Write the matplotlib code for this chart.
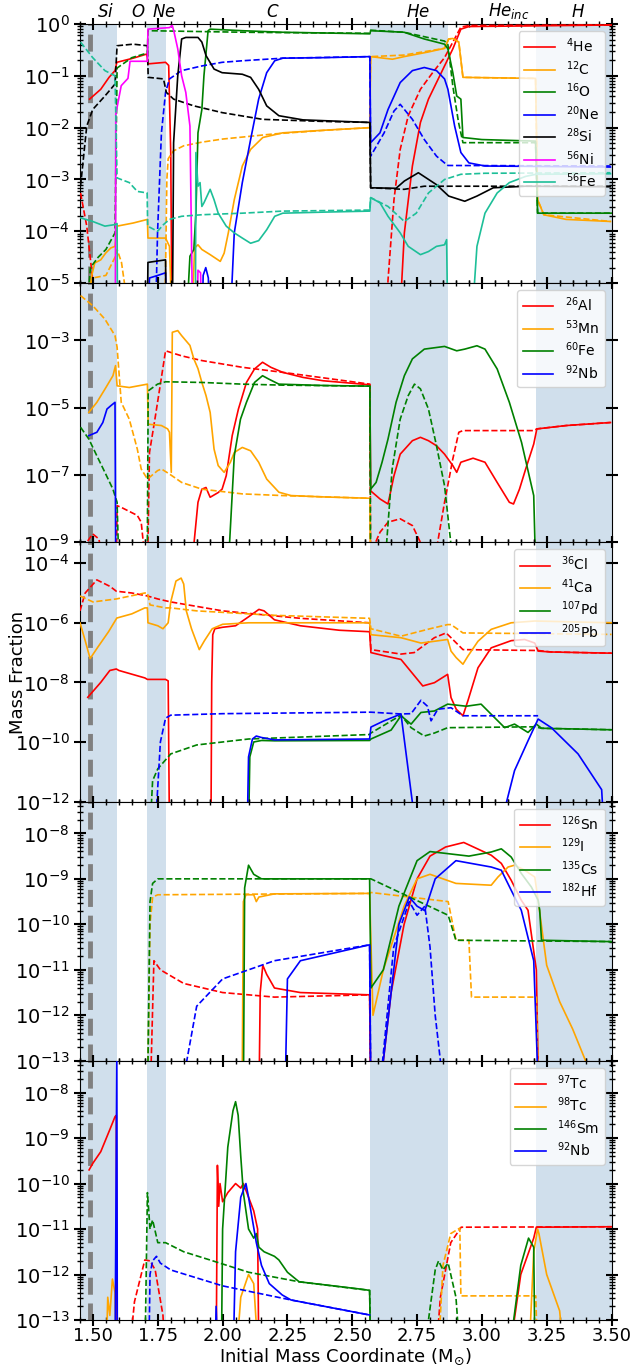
import numpy as np
import matplotlib
matplotlib.use("Agg")
import matplotlib.pyplot as plt
from matplotlib.ticker import MultipleLocator, FixedLocator, NullLocator
import matplotlib.transforms as mtrans

# ---- zones ----
zone_names = [r'$Si$', r'$O$', r'$Ne$', r'$C$', r'$He$', r'$He_{inc}$', r'$H$']
zone_label_x = [1.55, 1.673, 1.775, 2.193, 2.755, 3.103, 3.371]
shade_spans = [(1.45, 1.593), (1.71, 1.781), (2.567, 2.869), (3.208, 3.5)]
cut_x = 1.488

# ---- panel 1 (x, log10 mass fraction) ----
p1_he4_sol = [(1.487, -1.45), (1.53, -1.26), (1.562, -1.03), (1.585, -0.9), (1.592, -0.74), (1.655, -0.66),
              (1.708, -0.58), (1.712, -0.77), (1.78, -0.74), (1.792, -0.8), (1.80, -2.5), (1.805, -6),
              (2.68, -6), (2.701, -4.03), (2.732, -2.74), (2.763, -1.9), (2.794, -1.45), (2.825, -1.13),
              (2.856, -0.81), (2.888, -0.48), (2.919, -0.1), (2.95, -0.05), (3.5, -0.02)]
p1_he4_das = [(1.452, -3.26), (1.476, -3.9), (1.499, -4.94), (1.51, -6), (2.63, -6), (2.638, -4.94),
              (2.661, -3.39), (2.685, -2.42), (2.716, -1.77), (2.763, -1.26), (2.81, -0.94), (2.856, -0.65),
              (2.888, -0.35), (2.919, -0.06), (2.95, -0.03), (3.5, -0.02)]
p1_c12_sol = [(1.487, -6), (1.491, -4.94), (1.507, -4.61), (1.53, -4.55), (1.549, -4.42), (1.569, -4.32),
              (1.585, -4.29), (1.593, -3.9), (1.655, -3.84), (1.71, -3.77), (1.712, -4.13), (1.78, -4.13),
              (1.795, -4.29), (1.803, -5.5), (1.883, -5.5), (1.892, -4.32), (1.905, -4.26), (1.92, -4.35),
              (1.952, -4.45), (1.991, -4.58), (2.006, -4.42), (2.022, -4.03), (2.045, -3.39), (2.076, -2.74),
              (2.108, -2.42), (2.155, -2.19), (2.232, -2.1), (2.39, -2.05), (2.568, -2.0), (2.571, -0.63),
              (2.655, -0.68), (2.70, -0.63), (2.794, -0.54), (2.856, -0.47), (2.872, -0.29), (2.888, -0.28),
              (2.911, -0.35), (2.927, -1.03), (3.207, -1.05), (3.215, -3.39), (3.239, -3.68), (3.325, -3.77),
              (3.496, -3.81)]
p1_c12_das = [(1.45, -5.5), (1.50, -4.9), (1.55, -4.85), (1.585, -4.5), (1.593, -4.35), (1.61, -4.6),
              (1.63, -5.3), (1.64, -6), (1.775, -6), (1.78, -4.7), (1.785, -3.0), (1.79, -2.6), (1.81, -2.45),
              (1.85, -2.35), (1.92, -2.28), (2.0, -2.22), (2.2, -2.12), (2.4, -2.05), (2.567, -2.0),
              (2.571, -0.63), (2.7, -0.6), (2.856, -0.47), (2.872, -0.29), (2.888, -0.28), (2.911, -0.35),
              (2.927, -1.03), (3.207, -1.05), (3.215, -3.39), (3.239, -3.68), (3.496, -3.81)]
p1_o16_sol = [(1.795, -6), (1.858, -6),
              (1.874, -4.48), (1.889, -4.35), (1.897, -3.65), (1.905, -2.1), (1.92, -1.65), (1.928, -1.0),
              (1.944, -0.13), (1.952, -0.1), (2.076, -0.13), (2.232, -0.16), (2.568, -0.19), (2.571, -0.13),
              (2.70, -0.16), (2.778, -0.29), (2.856, -0.39), (2.869, -0.48), (2.888, -0.94), (2.903, -1.39),
              (2.919, -1.45), (2.927, -2.19), (3.0, -2.23), (3.207, -2.26), (3.215, -3.65), (3.5, -3.65)]
p1_o16_das = [(1.47, -6), (1.49, -4.7), (1.52, -4.5), (1.55, -4.35), (1.585, -4.03), (1.593, -0.85),
              (1.65, -0.65), (1.71, -0.56), (1.712, -0.13), (2.08, -0.16), (2.3, -0.17), (2.567, -0.18),
              (2.571, -0.12), (2.70, -0.16), (2.80, -0.27), (2.856, -0.33), (2.869, -0.4), (2.888, -1.2),
              (2.91, -1.9), (2.927, -2.29), (3.207, -2.29), (3.215, -3.65), (3.5, -3.65)]
p1_ne20_sol = [(1.71, -6), (1.718, -4.9), (1.75, -4.85), (1.78, -4.8), (1.785, -6), (1.92, -6), (1.925, -4.85),
               (1.935, -4.7), (1.945, -4.9), (1.95, -6), (2.027, -6), (2.045, -4.03), (2.076, -3.06),
               (2.108, -2.23), (2.139, -1.45), (2.17, -0.94), (2.201, -0.71), (2.232, -0.66), (2.388, -0.65),
               (2.568, -0.63), (2.571, -2.29), (2.607, -2.1), (2.638, -1.65), (2.685, -1.13), (2.732, -0.9),
               (2.778, -0.84), (2.825, -0.9), (2.856, -1.06), (2.869, -1.26), (2.895, -1.97), (2.919, -2.48),
               (2.95, -2.68), (3.012, -2.74), (3.496, -2.76)]
p1_ne20_das = [(1.74, -6), (1.749, -4.03), (1.764, -2.1), (1.78, -1.32), (1.795, -1.06), (1.842, -0.9),
               (1.92, -0.81), (1.998, -0.74), (2.076, -0.71), (2.232, -0.66), (2.568, -0.63), (2.571, -2.55),
               (2.623, -2.1), (2.661, -1.68), (2.685, -1.55), (2.732, -1.84), (2.778, -2.23), (2.825, -2.55),
               (2.856, -2.68), (2.869, -2.73), (3.496, -2.74)]
p1_si28_sol = [(1.709, -6), (1.712, -4.6), (1.78, -4.55), (1.783, -6), (1.806, -6),
               (1.811, -2.29), (1.827, -1.0), (1.842, -0.29), (1.858, -0.26), (1.905, -0.26), (1.92, -0.35),
               (1.936, -0.61), (1.967, -0.87), (1.998, -0.94), (2.076, -0.97), (2.108, -1.03), (2.139, -1.26),
               (2.17, -1.58), (2.217, -1.77), (2.31, -1.85), (2.568, -1.9), (2.571, -3.16), (2.669, -3.17),
               (2.701, -3.03), (2.755, -2.87), (2.825, -3.1), (2.872, -3.32), (2.934, -3.42), (2.981, -3.32),
               (3.044, -3.16), (3.169, -3.13), (3.496, -3.14)]
p1_si28_das = [(1.452, -3.13), (1.476, -1.97), (1.499, -1.65), (1.546, -1.39), (1.585, -1.16), (1.593, -0.42),
               (1.655, -0.39), (1.71, -0.42), (1.713, -1.03), (1.772, -1.06), (1.783, -1.32), (1.811, -1.45),
               (1.889, -1.58), (1.998, -1.71), (2.154, -1.84), (2.388, -1.88), (2.568, -1.9), (2.571, -3.16),
               (2.70, -3.19), (2.778, -3.13), (2.856, -3.13), (3.496, -3.13)]
p1_ni56_sol = [(1.586, -6), (1.588, -1.74), (1.609, -1.19), (1.635, -1.05), (1.643, -0.72), (1.70, -0.72),
               (1.71, -0.72), (1.712, -0.1), (1.795, -0.07), (1.806, -0.03), (1.813, -0.16), (1.827, -0.48),
               (1.842, -1.0), (1.858, -1.32), (1.874, -1.97), (1.885, -6), (1.90, -6), (1.905, -4.75),
               (1.915, -4.8), (1.92, -6)]
p1_fe56_sol = [(1.452, -3.74), (1.499, -3.81), (1.546, -3.9), (1.585, -3.87), (1.593, -3.85), (1.595, -6),
               (1.895, -6), (1.897, -2.48), (1.905, -3.13), (1.913, -3.06), (1.92, -3.52), (1.928, -3.45),
               (1.952, -3.19), (1.967, -3.39), (1.983, -3.65), (2.014, -3.9), (2.045, -4.03), (2.076, -4.13),
               (2.108, -4.23), (2.139, -4.18), (2.17, -3.97), (2.201, -3.71), (2.232, -3.65), (2.388, -3.63),
               (2.568, -3.61), (2.571, -3.35), (2.607, -3.45), (2.638, -3.71), (2.685, -4.03), (2.716, -4.29),
               (2.763, -4.45), (2.794, -4.39), (2.825, -4.29), (2.856, -4.26), (2.864, -4.16), (2.869, -6),
               (2.958, -6), (2.981, -4.29), (3.012, -3.65), (3.059, -3.26), (3.106, -3.06), (3.169, -2.94),
               (3.208, -2.9), (3.496, -2.89)]
p1_fe56_das = [(1.452, -0.35), (1.499, -0.65), (1.546, -0.9), (1.585, -1.0), (1.593, -2.97), (1.64, -3.06),
               (1.671, -3.23), (1.709, -3.26), (1.711, -3.9), (1.749, -4.0), (1.772, -3.87), (1.795, -3.77),
               (1.842, -3.71), (1.92, -3.68), (2.076, -3.65), (2.232, -3.61), (2.568, -3.59), (2.571, -3.35),
               (2.638, -3.52), (2.701, -3.81), (2.747, -3.65), (2.794, -3.26), (2.856, -3.0), (2.919, -2.9),
               (3.012, -2.88), (3.496, -2.87)]

# ---- panel 2 ----
p2_al26_sol = [(1.88, -10), (1.89, -9.0), (1.905, -7.81), (1.92, -7.42), (1.936, -7.37), (1.944, -7.52),
               (1.952, -7.66), (1.983, -7.52), (1.998, -7.42), (2.014, -7.02), (2.037, -5.83), (2.061, -5.04),
               (2.092, -4.25), (2.123, -3.85), (2.154, -3.65), (2.186, -3.8), (2.232, -3.95), (2.31, -4.1),
               (2.388, -4.2), (2.568, -4.32), (2.571, -7.47), (2.607, -7.71), (2.638, -7.86), (2.661, -7.02),
               (2.685, -6.38), (2.732, -5.98), (2.763, -5.88), (2.794, -5.98), (2.825, -6.13), (2.856, -6.38),
               (2.888, -6.72), (2.903, -6.92), (2.919, -6.62), (2.966, -6.5), (3.012, -6.62), (3.059, -7.22),
               (3.106, -7.81), (3.122, -7.86), (3.145, -7.42), (3.169, -6.82), (3.2, -6.08), (3.212, -5.63),
               (3.325, -5.53), (3.496, -5.44)]
p2_al26_das = [(1.47, -10), (1.476, -9.0), (1.499, -8.75), (1.523, -8.9), (1.546, -10), (1.59, -10),
               (1.593, -7.91), (1.609, -7.96), (1.671, -8.2), (1.686, -8.4), (1.694, -9.0), (1.70, -10),
               (1.71, -10), (1.718, -6.33), (1.741, -5.24), (1.78, -3.31), (1.842, -3.46), (1.92, -3.6),
               (2.076, -3.8), (2.232, -3.95), (2.568, -4.3), (2.571, -10), (2.59, -9.0), (2.607, -8.7),
               (2.638, -8.4), (2.685, -8.3), (2.732, -8.5), (2.763, -9.0), (2.78, -10), (2.82, -10),
               (2.825, -9.2), (2.856, -7.81), (2.888, -6.52), (2.911, -5.73), (2.927, -5.68), (3.2, -5.68),
               (3.212, -5.63), (3.325, -5.53), (3.496, -5.44)]
p2_mn53_sol = [(1.484, -5.14), (1.515, -4.84), (1.546, -4.45), (1.577, -4.05), (1.587, -3.75), (1.593, -4.35),
               (1.64, -4.4), (1.71, -4.3), (1.713, -5.49), (1.764, -5.53), (1.788, -5.63), (1.795, -5.73),
               (1.802, -6.92), (1.806, -2.76), (1.827, -2.71), (1.842, -2.86), (1.874, -3.15), (1.889, -3.55),
               (1.905, -3.84), (1.92, -4.25), (1.936, -4.64), (1.952, -5.14), (1.967, -6.23), (1.983, -6.72),
               (2.006, -6.92), (2.03, -6.62), (2.045, -6.33), (2.076, -6.18), (2.108, -6.28), (2.139, -6.62),
               (2.17, -7.12), (2.217, -7.51), (2.264, -7.61), (2.388, -7.65), (2.568, -7.69), (2.571, -10)]
p2_mn53_das = [(1.452, -1.67), (1.499, -1.97), (1.546, -2.37), (1.585, -2.86), (1.593, -3.2), (1.609, -4.84),
               (1.64, -5.34), (1.671, -6.23), (1.686, -6.82), (1.71, -7.12), (1.749, -6.87), (1.764, -6.82),
               (1.795, -6.97), (1.842, -7.22), (1.92, -7.42), (2.076, -7.56), (2.232, -7.61), (2.568, -7.69),
               (2.571, -10)]
p2_fe60_sol = [(2.02, -10), (2.027, -9.0), (2.045, -6.43), (2.069, -5.34), (2.092, -4.84), (2.123, -4.25),
               (2.154, -4.05), (2.178, -4.15), (2.217, -4.3), (2.388, -4.34), (2.568, -4.36), (2.571, -7.42),
               (2.592, -7.22), (2.615, -6.62), (2.638, -5.93), (2.669, -4.84), (2.701, -4.05), (2.732, -3.55),
               (2.778, -3.26), (2.856, -3.18), (2.903, -3.31), (2.934, -3.26), (2.981, -3.16), (3.012, -3.26),
               (3.059, -3.85), (3.106, -4.84), (3.153, -6.03), (3.2, -7.61), (3.208, -10)]
p2_fe60_das = [(1.452, -5.58), (1.484, -5.93), (1.515, -6.43), (1.546, -6.92), (1.577, -7.42), (1.593, -7.81),
               (1.601, -10), (1.709, -10), (1.713, -4.5), (1.749, -4.3), (1.78, -4.23), (1.92, -4.25),
               (2.076, -4.3), (2.232, -4.33), (2.568, -4.36), (2.571, -10), (2.623, -10), (2.654, -6.82),
               (2.685, -5.34), (2.716, -4.64), (2.74, -4.3), (2.763, -4.44), (2.794, -5.04), (2.825, -6.13),
               (2.856, -7.32), (2.88, -9.0), (2.89, -10)]
p2_nb92_sol = [(1.484, -5.83), (1.515, -5.73), (1.538, -5.44), (1.554, -5.04), (1.569, -4.94), (1.585, -4.84),
               (1.588, -10)]

# ---- panel 3 ----
p3_cl36_sol = [(1.48, -8.5), (1.50, -8.3), (1.53, -8.0), (1.565, -7.6), (1.59, -7.55), (1.60, -7.6),
               (1.70, -7.85), (1.71, -7.9), (1.78, -7.9), (1.79, -7.95), (1.795, -13), (1.955, -13),
               (1.958, -8.0), (1.962, -6.4), (1.97, -6.2), (2.0, -6.15), (2.05, -6.1), (2.10, -5.8),
               (2.14, -5.55), (2.16, -5.6), (2.2, -5.9), (2.3, -6.1), (2.45, -6.25), (2.567, -6.3),
               (2.572, -7.0), (2.62, -7.1), (2.688, -7.23), (2.772, -8.12), (2.817, -8.01), (2.868, -7.73),
               (2.881, -8.51), (2.901, -8.9), (2.927, -9.12), (2.946, -8.62), (2.985, -7.51), (3.036, -6.84),
               (3.113, -6.6), (3.165, -6.56), (3.204, -6.68), (3.217, -6.95), (3.268, -6.98), (3.5, -7.02)]
p3_cl36_das = [(1.45, -5.6), (1.47, -5.0), (1.515, -4.56), (1.566, -4.78), (1.59, -4.94), (1.65, -5.0),
               (1.71, -5.1), (1.75, -5.2), (1.80, -5.3), (2.0, -5.6), (2.3, -5.85), (2.567, -6.0),
               (2.572, -6.9), (2.688, -7.05), (2.739, -7.0), (2.817, -6.5), (2.862, -6.34), (2.881, -6.5),
               (2.927, -6.9), (3.217, -6.93), (3.268, -6.98), (3.5, -7.02)]
p3_ca41_sol = [(1.45, -6.0), (1.47, -6.6), (1.489, -7.2), (1.52, -6.8), (1.56, -6.3), (1.592, -5.84),
               (1.65, -5.7), (1.70, -5.5), (1.71, -5.5), (1.712, -6.0), (1.75, -6.1), (1.77, -6.2),
               (1.79, -6.0), (1.80, -5.3), (1.82, -4.6), (1.84, -4.5), (1.85, -4.7), (1.86, -5.6),
               (1.88, -6.2), (1.91, -6.9), (1.93, -6.6), (1.96, -6.2), (2.0, -6.05), (2.1, -6.0),
               (2.3, -6.0), (2.567, -6.0), (2.572, -6.4), (2.688, -6.5), (2.765, -6.68), (2.817, -6.62),
               (2.868, -6.56), (2.881, -6.95), (2.901, -7.17), (2.927, -7.39), (2.946, -7.12), (2.985, -6.62),
               (3.036, -6.22), (3.113, -6.0), (3.204, -5.94), (3.5, -6.0)]
p3_ca41_das = [(1.45, -5.1), (1.50, -5.3), (1.59, -5.2), (1.70, -5.0), (1.71, -5.0), (1.72, -5.4),
               (1.78, -5.5), (1.80, -5.5), (1.9, -5.6), (2.2, -5.75), (2.567, -5.85), (2.572, -6.2),
               (2.688, -6.45), (2.80, -6.2), (2.868, -6.06), (2.881, -6.06), (2.927, -6.34), (3.5, -6.39)]
p3_pd107_sol = [(2.10, -13), (2.105, -10.5), (2.12, -10.0), (2.15, -9.95), (2.2, -9.96), (2.567, -9.95),
                (2.572, -9.9), (2.65, -9.6), (2.688, -9.12), (2.727, -9.4), (2.765, -9.01), (2.817, -8.96),
                (2.868, -8.73), (2.94, -8.8), (2.997, -8.73), (3.036, -9.07), (3.088, -9.52), (3.126, -9.4),
                (3.178, -9.68), (3.21, -9.4), (3.23, -9.54), (3.5, -9.59)]
p3_pd107_das = [(1.72, -13), (1.73, -11.3), (1.75, -10.9), (1.80, -10.4), (1.9, -10.1), (2.1, -9.9),
                (2.567, -9.75), (2.572, -9.7), (2.688, -9.1), (2.727, -9.52), (2.778, -9.8), (2.817, -9.7),
                (2.868, -9.52), (3.204, -9.49), (3.23, -9.54), (3.5, -9.59)]
p3_pb205_sol = [(2.095, -13), (2.10, -10.5), (2.115, -9.9), (2.13, -9.8), (2.15, -9.85), (2.2, -9.93),
                (2.567, -9.9), (2.572, -9.5), (2.62, -9.3), (2.688, -9.06), (2.739, -12.5), (3.081, -12.5),
                (3.126, -10.96), (3.178, -9.96), (3.217, -9.23), (3.268, -9.52), (3.371, -10.4),
                (3.462, -11.6), (3.468, -12.5)]
p3_pb205_das = [(1.74, -13), (1.76, -10.0), (1.78, -9.2), (1.80, -9.1), (2.0, -9.05), (2.567, -9.0),
                (2.572, -9.0), (2.688, -9.06), (2.727, -9.05), (2.765, -8.6), (2.79, -8.8), (2.804, -9.29),
                (2.83, -8.9), (2.881, -8.85), (2.927, -9.12), (3.217, -9.12)]

# ---- panel 4 ----
p4_sn126_sol = [(2.14, -14), (2.145, -11.5), (2.155, -10.9), (2.17, -11.1), (2.2, -11.4), (2.3, -11.5),
                (2.567, -11.55), (2.572, -14), (2.60, -14), (2.65, -11.5), (2.70, -10.0), (2.75, -9.0),
                (2.80, -8.5), (2.86, -8.3), (2.93, -8.2), (3.036, -8.48), (3.075, -8.66), (3.113, -9.03),
                (3.152, -9.47), (3.178, -9.69), (3.21, -11.0), (3.22, -14)]
p4_sn126_das = [(1.72, -14), (1.735, -10.8), (1.76, -11.0), (1.85, -11.3), (2.0, -11.5), (2.2, -11.6),
                (2.567, -11.55), (2.572, -14)]
p4_i129_sol = [(2.075, -14), (2.08, -9.5), (2.09, -9.35), (2.12, -9.35), (2.13, -9.5), (2.14, -9.4),
               (2.2, -9.33), (2.567, -9.32), (2.58, -12), (2.62, -11), (2.70, -9.6), (2.75, -9.0),
               (2.80, -8.9), (2.90, -9.1), (3.036, -9.14), (3.062, -8.96), (3.101, -8.74), (3.126, -8.70),
               (3.165, -8.81), (3.204, -8.96), (3.217, -9.47), (3.25, -10.9), (3.30, -11.7), (3.35, -12.3),
               (3.40, -13), (3.45, -14)]
p4_i129_das = [(1.71, -14), (1.72, -10.0), (1.73, -9.4), (1.75, -9.35), (2.567, -9.32), (2.572, -9.3),
               (2.87, -9.5), (2.90, -10.35), (2.95, -10.35), (2.96, -11.6), (3.21, -11.6), (3.22, -14)]
p4_cs135_sol = [(2.08, -14), (2.085, -9.2), (2.10, -8.7), (2.12, -8.9), (2.15, -9.0), (2.567, -9.0),
                (2.572, -11.4), (2.62, -11.0), (2.68, -9.6), (2.75, -8.6), (2.80, -8.4), (2.95, -8.5),
                (3.036, -8.41), (3.075, -8.34), (3.113, -8.52), (3.152, -8.88), (3.191, -9.18), (3.217, -9.47),
                (3.223, -9.69), (3.23, -10.35), (3.5, -10.38)]
p4_cs135_das = [(1.71, -14), (1.72, -9.5), (1.73, -9.1), (1.75, -9.0), (2.567, -9.0), (2.572, -9.0),
                (2.87, -9.8), (2.90, -10.35), (3.5, -10.38)]
p4_hf182_sol = [(2.24, -14), (2.25, -11.2), (2.3, -10.8), (2.567, -10.45), (2.572, -14), (2.6, -14),
                (2.68, -10.0), (2.72, -9.4), (2.75, -9.6), (2.78, -9.7), (2.82, -9.0), (2.9, -8.6),
                (3.036, -8.74), (3.075, -8.81), (3.113, -9.25), (3.152, -9.69), (3.2, -10.8), (3.22, -14)]
p4_hf182_das = [(1.83, -14), (1.9, -11.8), (2.0, -11.2), (2.2, -10.8), (2.567, -10.45), (2.572, -14),
                (2.6, -14), (2.66, -10.5), (2.72, -9.5), (2.75, -9.8), (2.78, -9.6), (2.80, -10.5),
                (2.82, -12), (2.86, -14)]

# ---- panel 5 ----
p5_tc97_sol = [(1.485, -9.7), (1.50, -9.55), (1.53, -9.3), (1.566, -8.8), (1.585, -8.53), (1.59, -8.5),
               (1.593, -14), (1.975, -14), (1.98, -9.6), (1.985, -10.5), (1.99, -10.0), (2.00, -10.4),
               (2.02, -10.2), (2.05, -10.0), (2.07, -10.1), (2.08, -10.0), (2.10, -10.3), (2.12, -10.6),
               (2.135, -11.0), (2.14, -14), (3.10, -14), (3.15, -12.0), (3.20, -11.2), (3.21, -10.96),
               (3.5, -10.95)]
p5_tc97_das = [(1.636, -14), (1.66, -12.6), (1.70, -11.68), (1.72, -11.7), (1.74, -11.9), (1.77, -12.9),
               (1.78, -14), (2.82, -14), (2.84, -12.5), (2.88, -11.3), (2.92, -10.96), (3.5, -10.95)]
p5_tc98_sol = [(1.55, -14), (1.557, -12.5), (1.565, -12.9), (1.575, -12.1), (1.585, -12.4), (1.59, -14),
               (2.05, -14), (2.07, -12.5), (2.10, -12.0), (2.12, -12.2), (2.14, -14), (3.18, -14),
               (3.20, -11.5), (3.215, -11.0), (3.22, -11.1), (3.25, -12.0), (3.30, -12.8), (3.32, -14)]
p5_tc98_das = [(2.83, -14), (2.85, -11.8), (2.88, -11.1), (2.915, -10.98), (2.919, -12.47), (3.208, -12.47),
               (3.215, -14)]
p5_sm146_sol = [(1.995, -14), (2.0, -11.0), (2.02, -9.2), (2.04, -8.4), (2.05, -8.2), (2.06, -8.5),
                (2.07, -9.4), (2.08, -10.2), (2.10, -11.0), (2.12, -11.2), (2.13, -11.1), (2.14, -11.4),
                (2.16, -11.5), (2.20, -11.6), (2.217, -11.68), (2.25, -11.95), (2.295, -12.16),
                (2.545, -12.33), (2.567, -12.35), (2.572, -14),
                (3.10, -14), (3.15, -11.8), (3.18, -11.2), (3.20, -11.4), (3.205, -14)]
p5_sm146_das = [(1.70, -14), (1.71, -10.2), (1.72, -11.0), (1.73, -10.8), (1.75, -11.3), (1.78, -11.3),
                (1.85, -11.5), (1.951, -11.68), (2.1, -11.95), (2.295, -12.16), (2.567, -12.35), (2.572, -14),
                (2.78, -14), (2.794, -13), (2.82, -11.9), (2.833, -11.7), (2.85, -11.9), (2.87, -11.75),
                (2.90, -12.5), (2.919, -14)]
p5_nb92_sol = [(1.585, -14), (1.592, -7.2), (1.594, -14), (1.97, -14), (1.975, -12.7), (1.98, -13.5),
               (2.04, -14), (2.05, -11.5), (2.07, -10.3), (2.09, -10.0), (2.10, -10.3), (2.13, -11.3),
               (2.15, -11.8), (2.18, -12.2), (2.20, -12.3), (2.23, -12.45), (2.264, -12.56), (2.567, -12.89)]
p5_nb92_das = [(1.715, -14), (1.72, -12.0), (1.73, -11.7), (1.745, -11.6), (1.76, -11.75), (1.8, -11.9),
               (2.0, -12.25), (2.264, -12.56), (2.567, -12.89)]

panels = [
    ((1e-5, 1.0), [(r'$^{4}$He', 'red', p1_he4_sol, p1_he4_das),
                   (r'$^{12}$C', 'orange', p1_c12_sol, p1_c12_das),
                   (r'$^{16}$O', 'green', p1_o16_sol, p1_o16_das),
                   (r'$^{20}$Ne', 'blue', p1_ne20_sol, p1_ne20_das),
                   (r'$^{28}$Si', 'black', p1_si28_sol, p1_si28_das),
                   (r'$^{56}$Ni', 'magenta', p1_ni56_sol, None),
                   (r'$^{56}$Fe', '#1dbf98', p1_fe56_sol, p1_fe56_das)]),
    ((1e-9, 5e-2), [(r'$^{26}$Al', 'red', p2_al26_sol, p2_al26_das),
                    (r'$^{53}$Mn', 'orange', p2_mn53_sol, p2_mn53_das),
                    (r'$^{60}$Fe', 'green', p2_fe60_sol, p2_fe60_das),
                    (r'$^{92}$Nb', 'blue', p2_nb92_sol, None)]),
    ((1e-12, 5e-4), [(r'$^{36}$Cl', 'red', p3_cl36_sol, p3_cl36_das),
                     (r'$^{41}$Ca', 'orange', p3_ca41_sol, p3_ca41_das),
                     (r'$^{107}$Pd', 'green', p3_pd107_sol, p3_pd107_das),
                     (r'$^{205}$Pb', 'blue', p3_pb205_sol, p3_pb205_das)]),
    ((1e-13, 5e-8), [(r'$^{126}$Sn', 'red', p4_sn126_sol, p4_sn126_das),
                     (r'$^{129}$I', 'orange', p4_i129_sol, p4_i129_das),
                     (r'$^{135}$Cs', 'green', p4_cs135_sol, p4_cs135_das),
                     (r'$^{182}$Hf', 'blue', p4_hf182_sol, p4_hf182_das)]),
    ((1e-13, 5e-8), [(r'$^{97}$Tc', 'red', p5_tc97_sol, p5_tc97_das),
                     (r'$^{98}$Tc', 'orange', p5_tc98_sol, p5_tc98_das),
                     (r'$^{146}$Sm', 'green', p5_sm146_sol, p5_sm146_das),
                     (r'$^{92}$Nb', 'blue', p5_nb92_sol, p5_nb92_das)]),
]
# every-other-decade labels for the tall panels
sparse_ticks = {1: [1e-9, 1e-7, 1e-5, 1e-3], 2: [1e-12, 1e-10, 1e-8, 1e-6, 1e-4]}

plt.rcParams['font.size'] = 13
fig, axes = plt.subplots(5, 1, figsize=(6.35, 13.69), dpi=100, sharex=True)
fig.subplots_adjust(left=0.126, right=0.963, top=0.9825, bottom=0.0358, hspace=0)

for i, (ax, (ylim, series)) in enumerate(zip(axes, panels)):
    for lo, hi in shade_spans:
        ax.axvspan(lo, hi, color='steelblue', alpha=0.25, lw=0, zorder=0)
    ax.axvline(cut_x, color='grey', ls='--', lw=3.5, dashes=(3.5, 1.8), zorder=1)
    for label, col, sol, das in series:
        xs, ys = zip(*sol)
        ax.plot(xs, 10 ** np.array(ys), color=col, lw=1.2, label=label, zorder=3)
        if das is not None:
            xd, yd = zip(*das)
            ax.plot(xd, 10 ** np.array(yd), color=col, lw=1.2, ls='--', zorder=3)
    ax.set_yscale('log')
    ax.set_ylim(*ylim)
    ax.set_xlim(1.45, 3.5)
    if i in sparse_ticks:
        ax.yaxis.set_major_locator(FixedLocator(sparse_ticks[i]))
        ax.yaxis.set_minor_locator(NullLocator())
    ax.xaxis.set_major_locator(MultipleLocator(0.25))
    ax.xaxis.set_minor_locator(MultipleLocator(0.05))
    ax.tick_params(which='both', direction='inout', top=True, right=True)
    ax.tick_params(axis='x', labelsize=13, pad=1)
    ax.tick_params(axis='y', labelsize=14)
    ax.tick_params(which='major', length=8, width=1.5)
    ax.tick_params(which='minor', length=4, width=1)
    ax.legend(loc='upper right', fontsize=10, handlelength=2.2, handletextpad=0.8,
              labelspacing=0.28, borderaxespad=0.5)

trans = mtrans.blended_transform_factory(axes[0].transData, axes[0].transAxes)
for name, xz in zip(zone_names, zone_label_x):
    axes[0].text(xz, 1.012, name, transform=trans, ha='center', va='bottom', fontsize=12)

axes[-1].set_xlabel(r'Initial Mass Coordinate (M$_{\odot}$)', fontsize=13, labelpad=1)
fig.text(0.028, 0.509, 'Mass Fraction', rotation=90, ha='center', va='center', fontsize=13)

fig.savefig('out.png', dpi=100)
